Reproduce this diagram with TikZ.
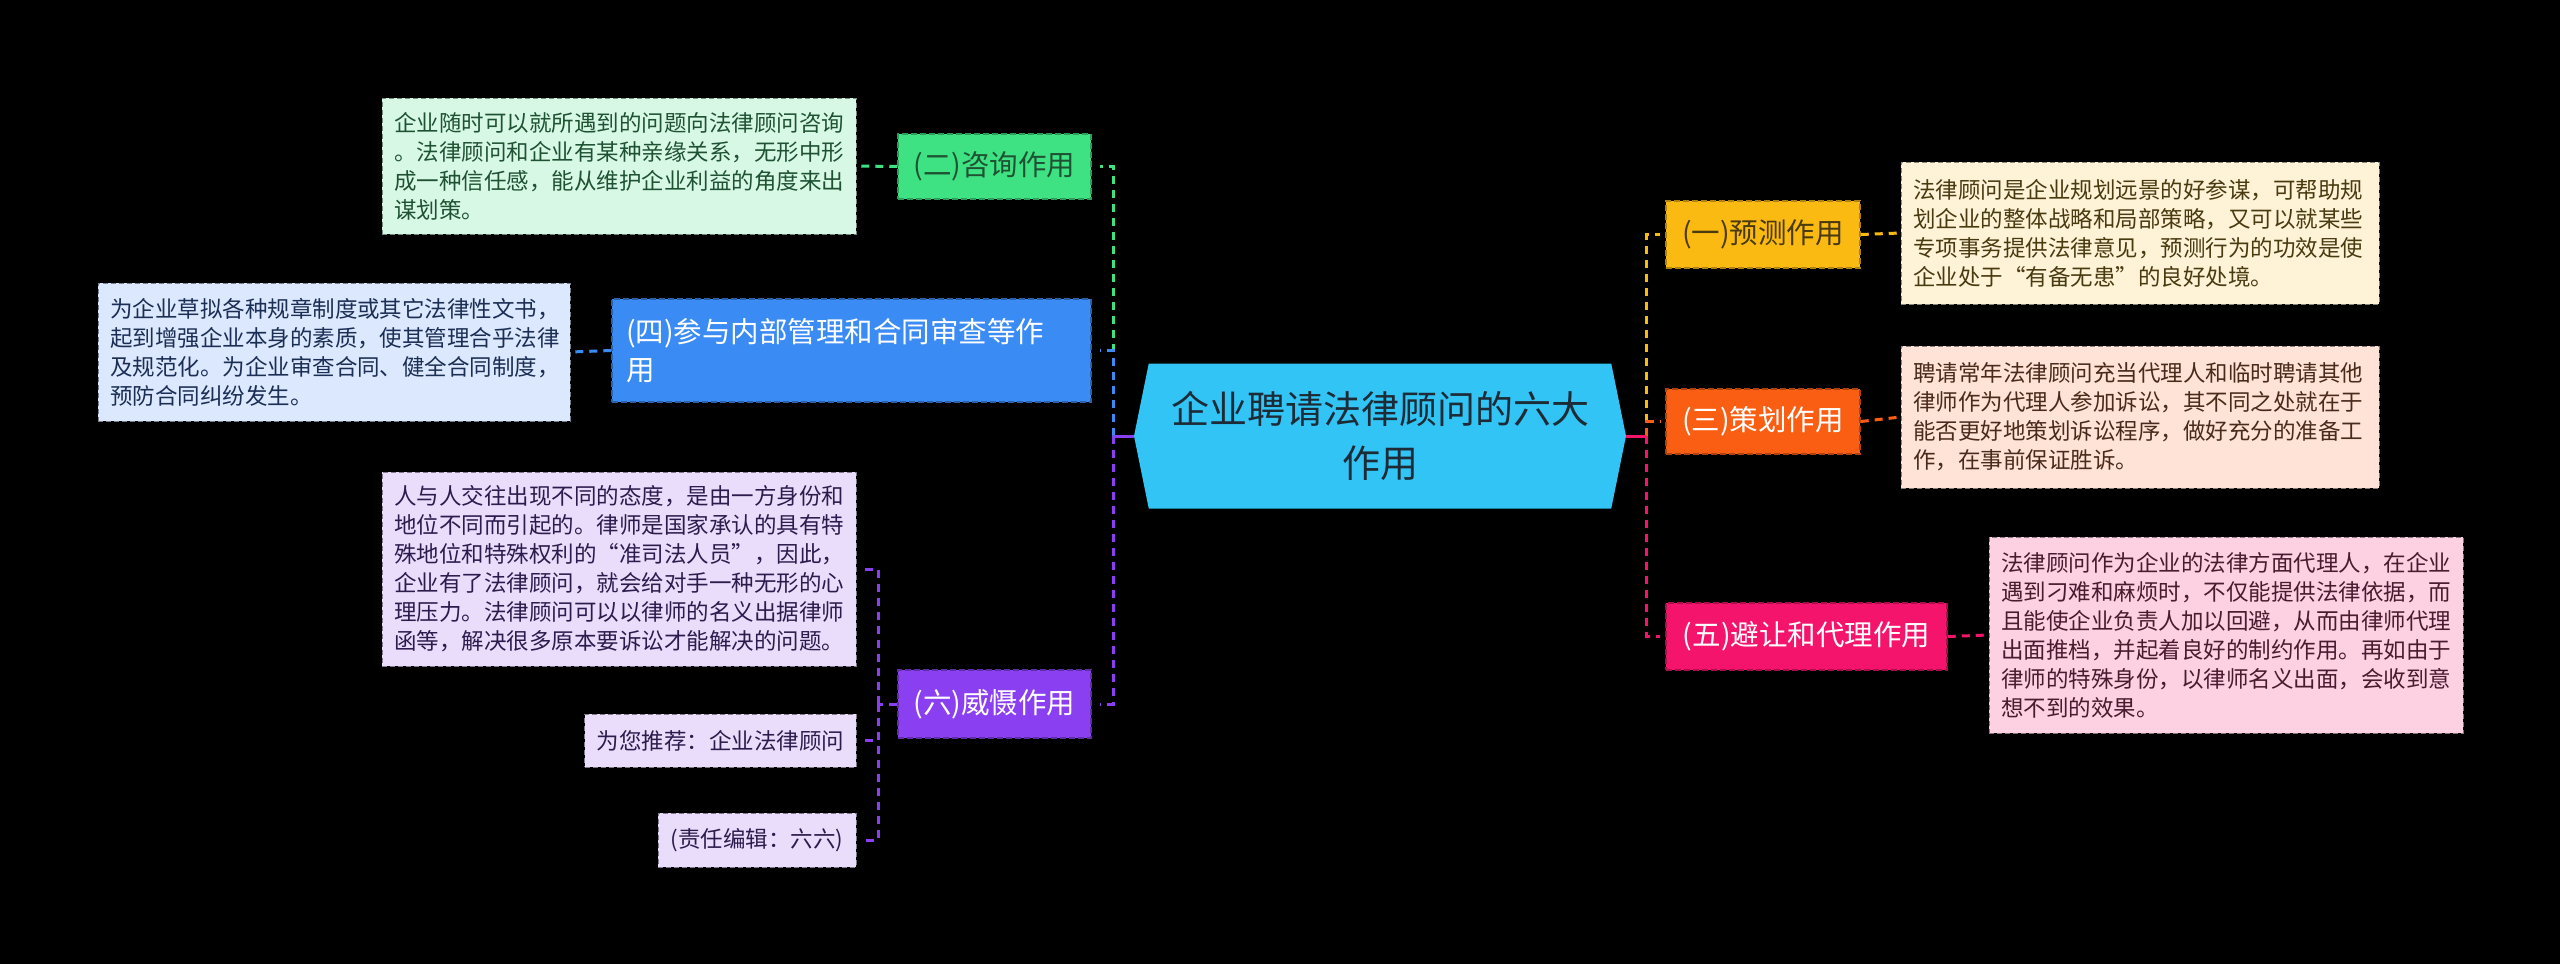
\documentclass[tikz,border=0pt]{standalone}
\usepackage{xcolor}
\usepackage{fontspec}
\setmainfont{Noto Sans CJK SC}
\usepackage{tikz}
\usetikzlibrary{positioning}
\usetikzlibrary{shapes}
\usetikzlibrary{calc}

\definecolor{rootblue}{HTML}{31C4F5}
\definecolor{roottext}{HTML}{1D2B36}
\definecolor{zxgreen}{HTML}{3EE282}
\definecolor{zxlight}{HTML}{D8F8E6}
\definecolor{zxdark}{HTML}{1F5233}
\definecolor{cyblue}{HTML}{3B8BF5}
\definecolor{cylight}{HTML}{DCE8FD}
\definecolor{cydark}{HTML}{1B2E55}
\definecolor{wspurple}{HTML}{8A3FF0}
\definecolor{wslight}{HTML}{E9DDFB}
\definecolor{wsdark}{HTML}{2E1B4E}
\definecolor{ycyellow}{HTML}{FBBA12}
\definecolor{yclight}{HTML}{FEF3D7}
\definecolor{ycdark}{HTML}{4A3A10}
\definecolor{chorange}{HTML}{F95E12}
\definecolor{chlight}{HTML}{FEE3D6}
\definecolor{chdark}{HTML}{4A2A1A}
\definecolor{bdpink}{HTML}{F4146C}
\definecolor{bdlight}{HTML}{FDD0E2}
\definecolor{bddark}{HTML}{4A1A2E}

\tikzset{
  rootnode/.style={shape=signal, signal to=west and east, signal pointer angle=157, fill=rootblue, text=roottext, align=center, inner sep=0pt, font=\fontsize{38}{54}\selectfont},
  topic/.style={fill=#1, draw=#1!70!black, dash pattern=on 6pt off 3pt, line width=1.5pt, inner xsep=14pt, inner ysep=0pt, font=\fontsize{28.5}{38}\selectfont},
  detail/.style={fill=#1, draw=#1!55!black, dash pattern=on 5pt off 3pt, line width=1pt, inner xsep=12pt, inner ysep=8pt, align=left, font=\fontsize{22.5}{29}\selectfont},
  link/.style={draw=#1, dash pattern=on 8pt off 6pt, line width=3pt},
  stem/.style={draw=#1, line width=3pt}
}

\begin{document}
\begin{tikzpicture}[x=1pt,y=-1pt]
\fill[black] (0,0) rectangle (2560,964);
\useasboundingbox (0,0) rectangle (2560,964);

\node[rootnode, minimum width=492pt, minimum height=145pt] (root) at (1380,436) {企业聘请法律顾问的六大\\作用};

\node[topic=zxgreen, text=zxdark, minimum width=193pt, minimum height=65pt] (zx) at (994.5,166.5) {(二)咨询作用};
\node[topic=cyblue, text=white, minimum height=103pt, text width=451pt, align=left] (cy) at (851.5,350.5) {(四)参与内部管理和合同审查等作\\用};
\node[topic=wspurple, text=white, minimum width=193pt, minimum height=68pt] (ws) at (994.5,704) {(六)威慑作用};
\node[topic=ycyellow, text=ycdark, minimum width=194pt, minimum height=67pt] (yc) at (1763,234.5) {(一)预测作用};
\node[topic=chorange, text=white, minimum width=194pt, minimum height=65pt] (ch) at (1763,421.5) {(三)策划作用};
\node[topic=bdpink, text=white, minimum width=281pt, minimum height=67pt] (bd) at (1806.5,636.5) {(五)避让和代理作用};

\node[detail=zxlight, text=zxdark, text width=450pt, minimum height=136pt] (zxd) at (619,166) {企业随时可以就所遇到的问题向法律顾问咨询\\。法律顾问和企业有某种亲缘关系，无形中形\\成一种信任感，能从维护企业利益的角度来出\\谋划策。};
\node[detail=cylight, text=cydark, text width=448pt, minimum height=138pt] (cyd) at (334,352) {为企业草拟各种规章制度或其它法律性文书，\\起到增强企业本身的素质，使其管理合乎法律\\及规范化。为企业审查合同、健全合同制度，\\预防合同纠纷发生。};
\node[detail=wslight, text=wsdark, text width=450pt, minimum height=194pt] (wsd) at (619,569) {人与人交往出现不同的态度，是由一方身份和\\地位不同而引起的。律师是国家承认的具有特\\殊地位和特殊权利的“准司法人员”，因此，\\企业有了法律顾问，就会给对手一种无形的心\\理压力。法律顾问可以以律师的名义出据律师\\函等，解决很多原本要诉讼才能解决的问题。};
\node[detail=wslight, text=wsdark, minimum width=271pt, minimum height=53pt] (tj) at (720.5,740.5) {为您推荐：企业法律顾问};
\node[detail=wslight, text=wsdark, minimum width=198pt, minimum height=54pt] (zr) at (757,840) {(责任编辑：六六)};
\node[detail=yclight, text=ycdark, text width=454pt, minimum height=142pt] (ycd) at (2140,233) {法律顾问是企业规划远景的好参谋，可帮助规\\划企业的整体战略和局部策略，又可以就某些\\专项事务提供法律意见，预测行为的功效是使\\企业处于“有备无患”的良好处境。};
\node[detail=chlight, text=chdark, text width=454pt, minimum height=142pt] (chd) at (2140,417) {聘请常年法律顾问充当代理人和临时聘请其他\\律师作为代理人参加诉讼，其不同之处就在于\\能否更好地策划诉讼程序，做好充分的准备工\\作，在事前保证胜诉。};
\node[detail=bdlight, text=bddark, text width=450pt, minimum height=196pt] (bdd) at (2226,635) {法律顾问作为企业的法律方面代理人，在企业\\遇到刁难和麻烦时，不仅能提供法律依据，而\\且能使企业负责人加以回避，从而由律师代理\\出面推档，并起着良好的制约作用。再如由于\\律师的特殊身份，以律师名义出面，会收到意\\想不到的效果。};

\coordinate (lj) at (1113,436);
\coordinate (rj) at (1646,436);
\coordinate (wj) at (878,704);

\draw[link=zxgreen, shorten >=8pt] (lj) |- (zx.east);
\draw[link=cyblue, shorten >=8pt] (lj) |- (cy.east);
\draw[link=wspurple, shorten >=8pt] (lj) |- (ws.east);
\draw[stem=wspurple] (root.west) -- (lj);

\draw[link=ycyellow, shorten >=5pt] (rj) |- (yc.west);
\draw[link=chorange, shorten >=5pt] (rj) |- (ch.west);
\draw[link=bdpink, shorten >=5pt] (rj) |- (bd.west);
\draw[stem=bdpink] (root.east) -- (rj);

\draw[link=zxgreen] (zx.west) -- (zxd.east);
\draw[link=cyblue] (cy.west) -- (cyd.east);
\draw[link=ycyellow] (yc.east) -- (ycd.west);
\draw[link=chorange] (ch.east) -- (chd.west);
\draw[link=bdpink] (bd.east) -- (bdd.west);

\draw[link=wspurple] (ws.west) -- (wj);
\draw[link=wspurple, shorten >=5pt] (wj) |- (wsd.east);
\draw[link=wspurple, shorten >=5pt] (wj) |- (tj.east);
\draw[link=wspurple, shorten >=5pt] (wj) |- (zr.east);
\end{tikzpicture}
\end{document}
